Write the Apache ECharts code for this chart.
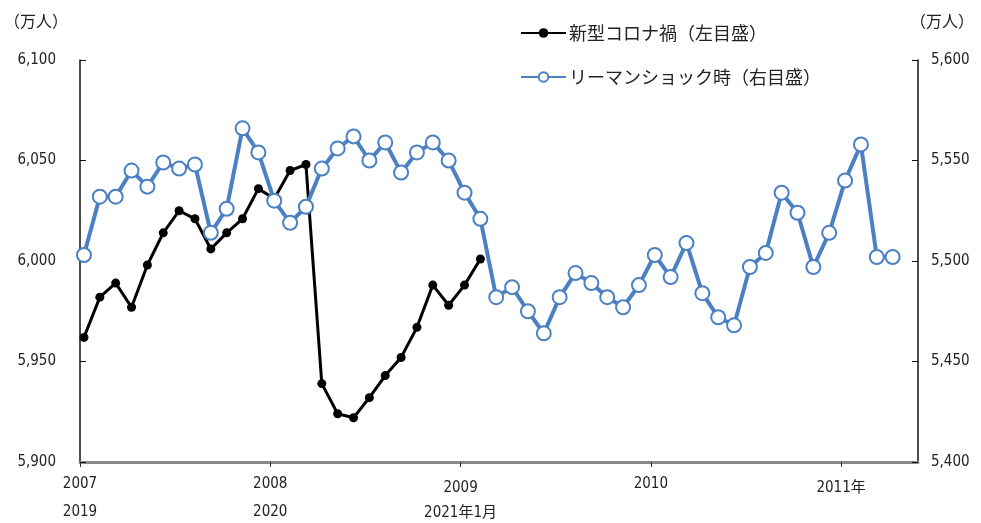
<!DOCTYPE html>
<html>
<head>
<meta charset="utf-8">
<script src="https://cdn.jsdelivr.net/npm/echarts@6/dist/echarts.min.js"></script>
<style>
html,body{margin:0;padding:0;background:#fff;}
#c{width:981px;height:523px;}
</style>
</head>
<body>
<div id="c"></div>
<script>
// Month index 0 = first month of each period
const coronaName = '新型コロナ禍（左目盛）';
const lehmanName = 'リーマンショック時（右目盛）';
// 2019年1月 〜 2021年2月 (万人)
const coronaValues = [5962, 5982, 5989, 5977, 5998, 6014, 6025, 6021, 6006, 6014, 6021, 6036,
  6031, 6045, 6048, 5939, 5924, 5922, 5932, 5943, 5952, 5967, 5988, 5978,
  5988, 6001];
// 2007年1月 〜 2011年4月 (万人)
const lehmanValues = [5503, 5532, 5532, 5545, 5537, 5549, 5546, 5548, 5514, 5526, 5566, 5554,
  5530, 5519, 5527, 5546, 5556, 5562, 5550, 5559, 5544, 5554, 5559, 5550,
  5534, 5521, 5482, 5487, 5475, 5464, 5482, 5494, 5489, 5482, 5477, 5488,
  5503, 5492, 5509, 5484, 5472, 5468, 5497, 5504, 5534, 5524, 5497, 5514,
  5540, 5558, 5502, 5502];
const tickMonths = [0, 12, 24, 36, 48];
const tickLabels = ['2007\n2019', '2008\n2020', '{lo|2009}\n{lo2|2021年1月}', '2010', '{lo|2011年}'];
const leftTicks = [5900, 5950, 6000, 6050, 6100];
const rightTicks = [5400, 5450, 5500, 5550, 5600];

const numFont = "'DejaVu Sans','Noto Sans CJK JP',sans-serif";
const numStyle = 'condensed';
const jpFont = "'Noto Sans CJK JP',sans-serif";
const blue = '#4b80c2';
const tickOffset = -0.25;

const fmt = v => String(v).replace(/\B(?=(\d{3})+(?!\d))/g, ',');

const chart = echarts.init(document.getElementById('c'));
chart.setOption({
  animation: false,
  backgroundColor: '#fff',
  grid: {left: 80, right: 63, top: 60, bottom: 61, containLabel: false, outerBoundsMode: 'none'},
  legend: {
    orient: 'vertical',
    left: 520, top: 24, padding: 0,
    itemWidth: 45, itemHeight: 12, itemGap: 26,
    textStyle: {fontFamily: jpFont, fontSize: 18, color: '#222', padding: [0, 0, 0, -2]},
    data: [coronaName, lehmanName]
  },
  graphic: [
    {type: 'text', left: 4, top: 13, style: {text: '（万人）', font: '16px ' + jpFont, fill: '#222'}},
    {type: 'text', left: 910, top: 13, style: {text: '（万人）', font: '16px ' + jpFont, fill: '#222'}}
  ],
  xAxis: {
    type: 'value',
    min: tickOffset,
    max: 52.6,
    splitLine: {show: false},
    axisLine: {show: true, onZero: false, lineStyle: {color: '#8a8a8a', width: 3}},
    axisTick: {show: true, length: 5, lineStyle: {color: '#333', width: 1},
      customValues: tickMonths.map(m => m + tickOffset)},
    axisLabel: {
      customValues: tickMonths.map(m => m + tickOffset),
      formatter: v => tickLabels[tickMonths.indexOf(Math.round(v - tickOffset))] || '',
      fontFamily: numFont, fontStyle: numStyle, fontSize: 15, color: '#222', lineHeight: 28, margin: 8,
      rich: {
        lo: {fontFamily: numFont, fontStyle: numStyle, fontSize: 15, color: '#222', padding: [8, 0, 0, 0]},
        lo2: {fontFamily: numFont, fontStyle: numStyle, fontSize: 15, color: '#222', padding: [2, 0, 0, 0]}
      }
    }
  },
  yAxis: [
    {
      type: 'value', min: leftTicks[0], max: leftTicks[leftTicks.length - 1], interval: 50,
      position: 'left',
      splitLine: {show: false},
      axisLine: {show: true, onZero: false, lineStyle: {color: '#111', width: 1.5}},
      axisTick: {show: true, inside: true, length: 6, lineStyle: {color: '#111'}},
      axisLabel: {formatter: fmt, fontFamily: numFont, fontStyle: numStyle, fontSize: 15, color: '#222', margin: 24}
    },
    {
      type: 'value', min: rightTicks[0], max: rightTicks[rightTicks.length - 1], interval: 50,
      position: 'right',
      splitLine: {show: false},
      axisLine: {show: true, onZero: false, lineStyle: {color: '#111', width: 1.5}},
      axisTick: {show: true, inside: true, length: 6, lineStyle: {color: '#111'}},
      axisLabel: {formatter: fmt, fontFamily: numFont, fontStyle: numStyle, fontSize: 15, color: '#222', margin: 13, padding: [0, 0, 4, 0]}
    }
  ],
  series: [
    {
      name: coronaName, type: 'line', yAxisIndex: 0, z: 2,
      data: coronaValues.map((v, i) => [i, v]),
      symbol: 'circle', symbolSize: 9,
      itemStyle: {color: '#000'},
      lineStyle: {color: '#000', width: 3}
    },
    {
      name: lehmanName, type: 'line', yAxisIndex: 1, z: 3,
      data: lehmanValues.map((v, i) => [i, v]),
      symbol: 'circle', symbolSize: 14,
      itemStyle: {color: '#fff', borderColor: blue, borderWidth: 2},
      lineStyle: {color: blue, width: 4}
    }
  ]
});
</script>
</body>
</html>
